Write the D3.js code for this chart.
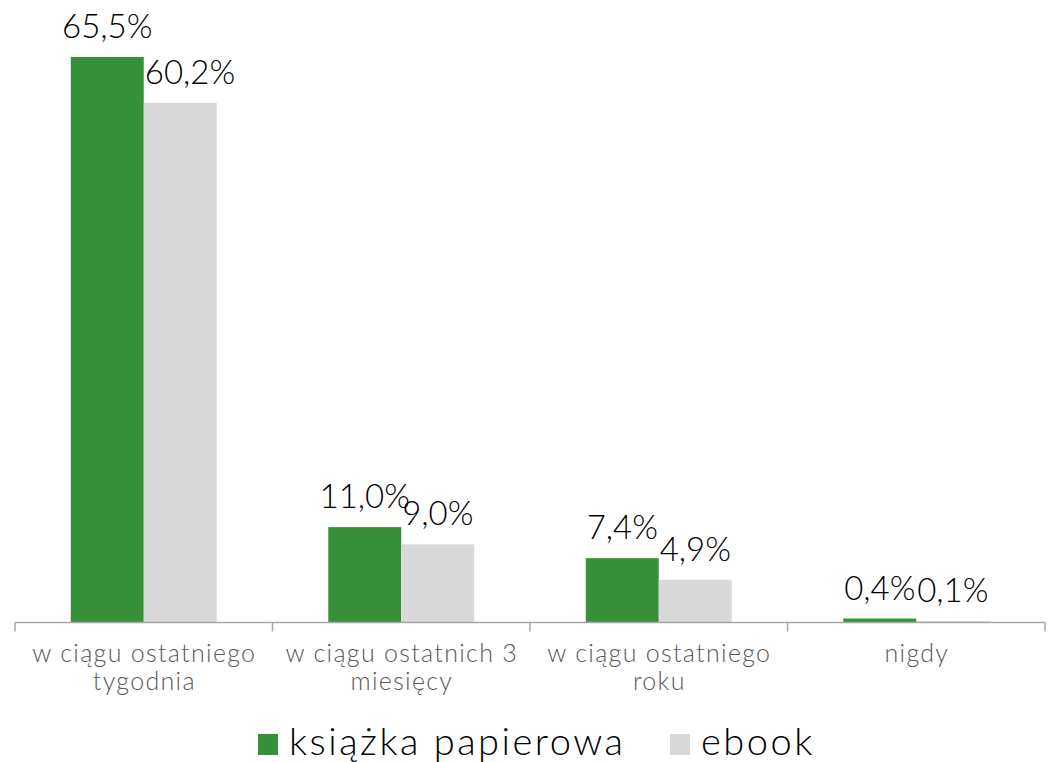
<!DOCTYPE html>
<html><head><meta charset="utf-8">
<script src="https://cdn.jsdelivr.net/npm/d3@7"></script>
<style>body{margin:0;background:#fff}svg{display:block}</style>
</head><body>
<svg id="c" width="1051" height="762"></svg>
<script>
const categories = [["w ciągu ostatniego","tygodnia"],["w ciągu ostatnich 3","miesięcy"],["w ciągu ostatniego","roku"],["nigdy"]];
const seriesNames = ["książka papierowa","ebook"];
const paper = [65.5, 11.0, 7.4, 0.4];
const ebook = [60.2, 9.0, 4.9, 0.1];
const labelsPaper = ["65,5%","11,0%","7,4%","0,4%"];
const labelsEbook = ["60,2%","9,0%","4,9%","0,1%"];
const colors = ["#36913A","#D9D9D9"];

const font = "Lato, 'DejaVu Sans', sans-serif";
const svg = d3.select("#c");
const catKeys = categories.map((d,i)=>i);
const x = d3.scaleBand().domain(catKeys).range([15,1045]).paddingInner(0).paddingOuter(0);
const xs = d3.scaleBand().domain(seriesNames).range([0,x.bandwidth()]).paddingInner(0).paddingOuter(0.764);
const y = d3.scaleLinear().domain([0,65.5]).range([622,57]);

const data = [paper, ebook];
const labs = [labelsPaper, labelsEbook];
seriesNames.forEach((s,si)=>{
  svg.append("g").selectAll("rect").data(data[si]).join("rect")
    .attr("x",(d,i)=>x(i)+xs(s)).attr("width",xs.bandwidth())
    .attr("y",d=>y(d)).attr("height",d=>y(0)-y(d)).attr("fill",colors[si]);
});

// axis
const ax = svg.append("g").attr("transform","translate(0,622.5)");
ax.append("line").attr("x1",15).attr("x2",1045).attr("stroke","#A6A6A6").attr("stroke-width",1.5);
const ticks = catKeys.map(i=>x(i)).concat([x.range()[1]]);
ax.selectAll("line.t").data(ticks).join("line").attr("class","t")
  .attr("x1",d=>d).attr("x2",d=>d).attr("y1",0).attr("y2",9).attr("stroke","#A6A6A6").attr("stroke-width",1.5);

// category labels
categories.forEach((lines,i)=>{
  const t = svg.append("text").attr("text-anchor","middle").attr("font-family",font)
    .attr("font-size",25).attr("font-weight",300).attr("letter-spacing",1.3).attr("fill","#595959");
  lines.forEach((l,j)=>t.append("tspan").attr("x",x(i)+x.bandwidth()/2+0.6).attr("y",662+j*27.5).text(l));
});

// data labels
seriesNames.forEach((s,si)=>{
  svg.append("g").selectAll("text").data(data[si]).join("text")
    .attr("x",(d,i)=>x(i)+xs(s)+xs.bandwidth()/2).attr("y",d=>y(d)-19)
    .attr("text-anchor","middle").attr("font-family",font).attr("font-size",33).attr("font-weight",300).attr("fill","#000")
    .text((d,i)=>labs[si][i])
    .each(function(d,i){
      if(si!==1) return;
      // avoid overlapping the neighbouring (taller) paper bar, as the original does
      const bb = this.getBBox();
      const greenRight = x(i)+xs(seriesNames[0])+xs.bandwidth();
      const greenTop = y(paper[i]);
      if (bb.y + bb.height > greenTop + 12 && bb.x < greenRight) {
        d3.select(this).attr("x", +d3.select(this).attr("x") + (greenRight + 1 - bb.x));
      }
    });
});

// legend
const leg = svg.append("g");
const legX = [258, 670];
seriesNames.forEach((s,si)=>{
  leg.append("rect").attr("x",legX[si]).attr("y",734).attr("width",20).attr("height",21).attr("fill",colors[si]);
  leg.append("text").attr("x",legX[si]+31).attr("y",755).attr("font-family",font).attr("font-size",38)
    .attr("font-weight",300).attr("letter-spacing",2.5).attr("fill","#000").text(s);
});
</script>
</body></html>
